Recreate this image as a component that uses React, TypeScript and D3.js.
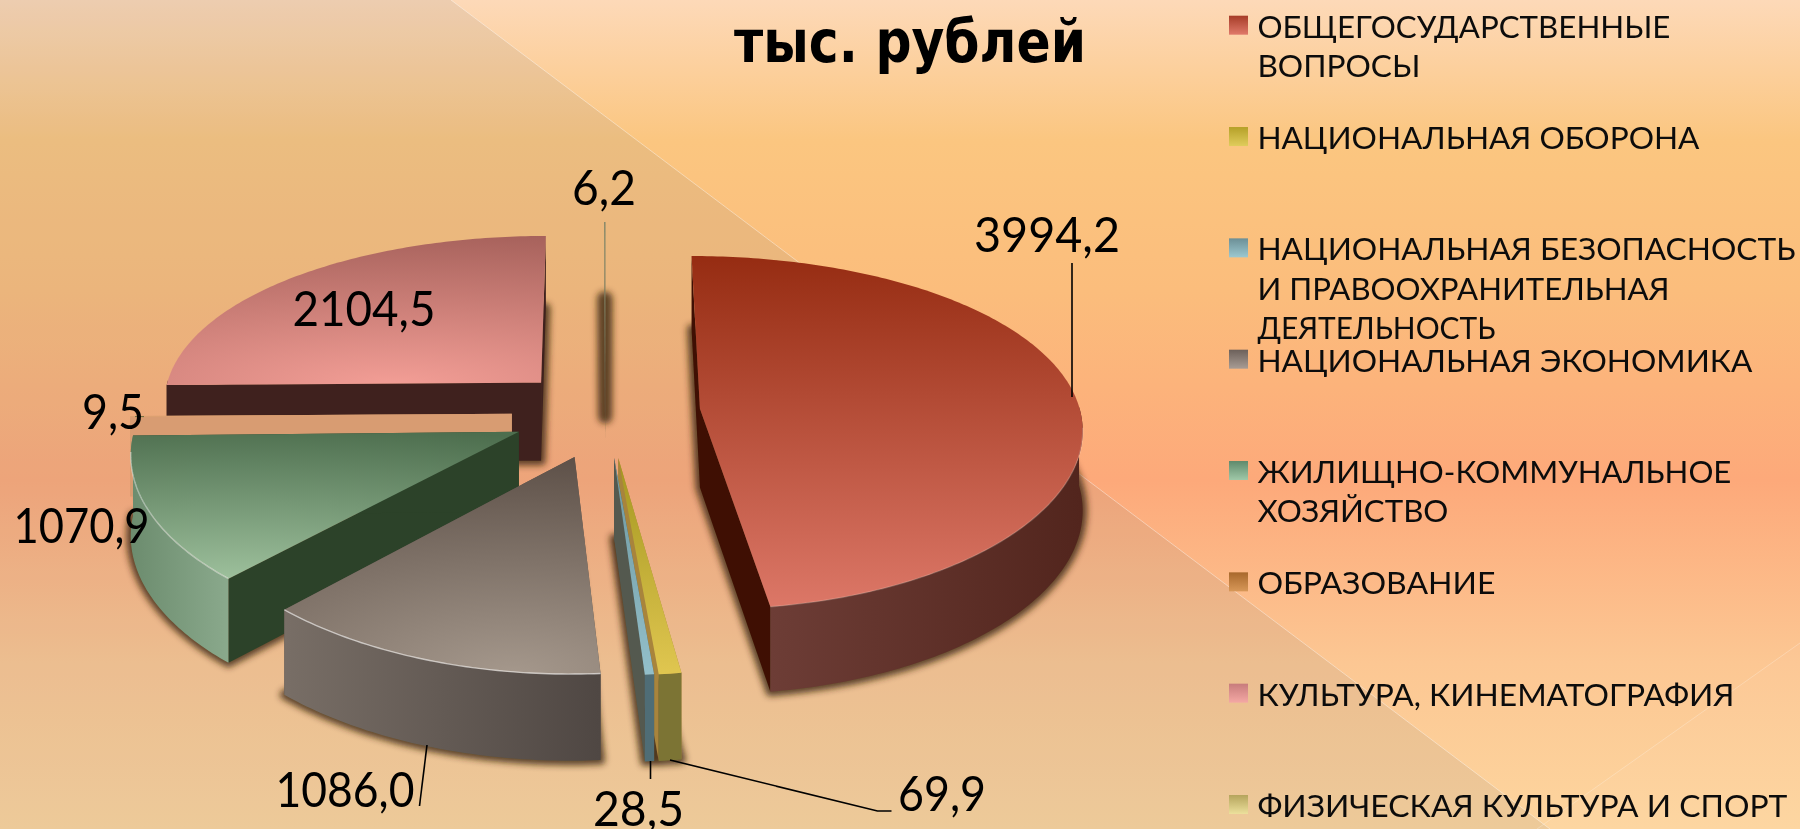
import React from "react";
import * as d3 from "d3";

const categories = [
  "ОБЩЕГОСУДАРСТВЕННЫЕ|ВОПРОСЫ",
  "НАЦИОНАЛЬНАЯ ОБОРОНА",
  "НАЦИОНАЛЬНАЯ БЕЗОПАСНОСТЬ|И ПРАВООХРАНИТЕЛЬНАЯ|ДЕЯТЕЛЬНОСТЬ",
  "НАЦИОНАЛЬНАЯ ЭКОНОМИКА",
  "ЖИЛИЩНО-КОММУНАЛЬНОЕ|ХОЗЯЙСТВО",
  "ОБРАЗОВАНИЕ",
  "КУЛЬТУРА, КИНЕМАТОГРАФИЯ",
  "ФИЗИЧЕСКАЯ КУЛЬТУРА И СПОРТ",
];
const values = [3994.2, 69.9, 28.5, 1086.0, 1070.9, 9.5, 2104.5, 6.2];
const valueLabels = ["3994,2", "69,9", "28,5", "1086,0", "1070,9", "9,5", "2104,5", "6,2"];

// explosion of every slice on the pie plane
const explodeX = [90, 8, 4, -34.5, -90, -98, -70, -5];
const explodeY = [-3, 101, 101, 99, 47, 8, -61, -102];

const topDark = ["#962c12", "#a3961f", "#6d979e", "#5a4d45", "#4d6e4e", "#dca070", "#a5605a", "#8a8a6a"];
const topLight = ["#dc7767", "#e0c650", "#93bfca", "#a5988c", "#9dc09c", "#dca070", "#f39e96", "#8a8a6a"];
const wallLeft = ["#6d3d36", "#7c7434", "#4f6d76", "#786e66", "#6c8c6e", "#d89c72", "#3f211e", "#6e6a50"];
const wallRight = ["#52251d", "#7c7434", "#4f6d76", "#4f4743", "#8aa98c", "#d89c72", "#3f211e", "#6e6a50"];
const sideColors = ["#3f0f03", "#a8843c", "#54594f", "#5a5048", "#2c4229", "#d89c72", "#3f211e", "#6e6a50"];
const radialFocus = [null, null, null, 0.72, 0.28, null, 0.6, null];
const bevel = [0.18, 0, 0, 0.6, 0.45, 0, 0.15, 0];
const swatchDark = ["#a63c28", "#b5a028", "#6c8f96", "#6c605a", "#5f8a6c", "#a8682c", "#c87c7c", "#b5a45c"];
const swatchLight = ["#e07a6a", "#e0cc5c", "#9cc8d0", "#a89c94", "#a0c8a8", "#d89858", "#f4a8a4", "#ece09c"];
const drawOrder = [6, 7, 5, 4, 3, 1, 2, 0];

const legendWidths = [[413, 163], [442], [538, 412, 238], [495], [474, 191], [238], [477], [530]];

const labelBoxes = [
  { x: 974, y: 252, w: 146 },
  { x: 898, y: 811, w: 88 },
  { x: 593, y: 826, w: 91 },
  { x: 275.5, y: 807, w: 139 },
  { x: 13.5, y: 543, w: 136 },
  { x: 82, y: 429, w: 62 },
  { x: 292.5, y: 326, w: 143 },
  { x: 572, y: 205, w: 64 },
];
const leaders: number[][][] = [
  [[1072, 263], [1072, 397]],
  [[670, 760], [877.5, 811], [891.5, 811]],
  [[650.5, 761], [650.5, 779]],
  [[427, 745], [419.5, 806]],
  [],
  [[135, 416.6], [144, 416.6]],
  [],
  [],
];

const W = 1800;
const H = 829;
const cx = 610;
const cy = 410;
const R = 380;
const tilt = 0.457;
const fx = (Y: number) => 1 / (1 - Y / 3700);
const fy = (Y: number) => 1 / (1 - Y / 2800);
const wall = (Y: number) => 79 + 0.016 * Y;

const line = d3.line();
const fontText = '"Lato","Noto Sans",sans-serif';

const pie = d3
  .pie<number>()
  .sort(null)
  .startAngle(0)
  .endAngle(2 * Math.PI);

function project(i: number, r: number, a: number, bottom: number): [number, number] {
  const X = explodeX[i] + r * Math.sin(a);
  const Y = explodeY[i] - r * Math.cos(a);
  return [cx + X * fx(Y), cy + Y * tilt * fy(Y) + bottom * wall(Y)];
}

function arcAngles(a0: number, a1: number): number[] {
  const n = Math.max(2, Math.ceil((a1 - a0) / 0.015));
  return d3.range(n + 1).map((k) => a0 + ((a1 - a0) * k) / n);
}

export default function App() {
  const arcs = pie(values);
  const legendScale = d3.scaleLinear().domain([0, 7]).range([15.7, 795]);
  return (
    <svg
      width={W}
      height={H}
      viewBox={`0 0 ${W} ${H}`}
      style={{ position: "fixed", left: 0, top: 0, display: "block" }}
    >
      <defs>
        <linearGradient id="bg" x1="0" y1="0" x2="0" y2="1">
          <stop offset="0" stopColor="#fdd9b8" />
          <stop offset="0.17" stopColor="#fbc680" />
          <stop offset="0.35" stopColor="#fbbd7c" />
          <stop offset="0.58" stopColor="#fda97a" />
          <stop offset="0.8" stopColor="#fcc793" />
          <stop offset="1" stopColor="#fdd59e" />
        </linearGradient>
        <filter id="blur" x="-30%" y="-30%" width="160%" height="160%">
          <feGaussianBlur stdDeviation="3" />
        </filter>
        {arcs.map((_, i) =>
          radialFocus[i] === null ? (
            <linearGradient key={i} id={`top${i}`} x1="0" y1="0" x2="0" y2="1">
              <stop offset="0" stopColor={topDark[i]} />
              <stop offset="1" stopColor={topLight[i]} />
            </linearGradient>
          ) : (
            <radialGradient
              key={i}
              id={`top${i}`}
              cx={radialFocus[i]!}
              cy="1"
              r="1.05"
              gradientTransform={`translate(${radialFocus[i]} 1) scale(1.7 1) translate(${-radialFocus[i]!} -1)`}
            >
              <stop offset="0" stopColor={topLight[i]} />
              <stop offset="1" stopColor={topDark[i]} />
            </radialGradient>
          )
        )}
        {arcs.map((_, i) => (
          <linearGradient key={i} id={`wall${i}`} x1="0" y1="0" x2="1" y2="0">
            <stop offset="0" stopColor={wallLeft[i]} />
            <stop offset="1" stopColor={wallRight[i]} />
          </linearGradient>
        ))}
        {arcs.map((_, i) => (
          <linearGradient key={i} id={`sw${i}`} x1="0" y1="0" x2="0" y2="1">
            <stop offset="0" stopColor={swatchDark[i]} />
            <stop offset="1" stopColor={swatchLight[i]} />
          </linearGradient>
        ))}
      </defs>

      <rect width={W} height={H} fill="url(#bg)" />
      <polygon points="0,0 451,0 1550,829 0,829" fill="#8f8a80" opacity={0.14} />
      <line x1={451} y1={0} x2={1550} y2={829} stroke="#fff" strokeOpacity={0.4} />
      <polygon points="1800,643 1800,829 1537,829" fill="#fff" opacity={0.03} />
      <line x1={1800} y1={643} x2={1537} y2={829} stroke="#fff" strokeOpacity={0.25} />

      <text
        x={734}
        y={62}
        textLength={352}
        lengthAdjust="spacingAndGlyphs"
        fontFamily='"DejaVu Sans",sans-serif'
        fontWeight={700}
        fontSize={58}
        fill="#000"
      >
        тыс. рублей
      </text>

      {/* shadows */}
      <g filter="url(#blur)">
        {arcs.map((d, i) => {
          const thin = d.endAngle - d.startAngle < 0.01;
          const rIn = thin ? 60 : 0;
          const rOut = thin ? R - 15 : R;
          const pts = arcAngles(d.startAngle, d.endAngle).map((a) => project(i, rOut, a, 1));
          const path = [project(i, rIn, d.startAngle, 1), ...pts, project(i, rIn, d.endAngle, 1)];
          return (
            <path
              key={i}
              d={line(path)! + "Z"}
              fill="#3c2710"
              stroke="#3c2710"
              strokeWidth={thin ? 14 : 9}
              strokeLinejoin="round"
              strokeLinecap="round"
              opacity={0.8}
            />
          );
        })}
      </g>

      {/* slices */}
      {drawOrder.map((i) => {
        const d = arcs[i];
        const angles = arcAngles(d.startAngle, d.endAngle);
        const topArc = angles.map((a) => project(i, R, a, 0));
        const lowArc = angles.map((a) => project(i, R, a, 1));
        const top = [project(i, 0, 0, 0), ...topArc];
        const side0 = [project(i, 0, 0, 0), topArc[0], lowArc[0], project(i, 0, 0, 1)];
        const last = angles.length - 1;
        const side1 = [project(i, 0, 0, 0), topArc[last], lowArc[last], project(i, 0, 0, 1)];
        const frontAngles = angles.filter((a) => Math.cos(a) < 0.02);
        const outer = [
          ...frontAngles.map((a) => project(i, R, a, 0)),
          ...frontAngles.slice().reverse().map((a) => project(i, R, a, 1)),
        ];
        const frontArc = angles
          .filter((a) => Math.cos(a) < -0.1)
          .map((a) => project(i, R, a, 0));
        return (
          <g key={i}>
            <path d={line(side0)! + "Z"} fill={sideColors[i]} />
            <path d={line(side1)! + "Z"} fill={sideColors[i]} />
            {outer.length > 3 && <path d={line(outer)! + "Z"} fill={`url(#wall${i})`} />}
            <path d={line(top)! + "Z"} fill={`url(#top${i})`} />
            {bevel[i] > 0 && frontArc.length > 1 && (
              <path
                d={line(frontArc)!}
                fill="none"
                stroke="#fff"
                strokeOpacity={bevel[i]}
                strokeWidth={1.4}
              />
            )}
          </g>
        );
      })}

      {/* leaders */}
      {leaders.map((pts, i) =>
        pts.length ? (
          <path
            key={i}
            d={line(pts as [number, number][])!}
            fill="none"
            stroke={i === 5 ? "#6b6b3a" : "#000"}
            strokeWidth={i === 5 ? 1 : 1.6}
          />
        ) : null
      )}

      {/* value labels */}
      {valueLabels.map((t, i) => (
        <text
          key={i}
          x={labelBoxes[i].x}
          y={labelBoxes[i].y}
          textLength={labelBoxes[i].w}
          lengthAdjust="spacingAndGlyphs"
          fontFamily={fontText}
          fontSize={48}
          fill="#000"
        >
          {t}
        </text>
      ))}

      {/* legend */}
      {categories.map((c, i) => {
        const top = legendScale(i);
        return (
          <g key={i}>
            <rect x={1229} y={top} width={19} height={19} fill={`url(#sw${i})`} />
            {c.split("|").map((ln, j) => (
              <text
                key={j}
                x={1257.4}
                y={top + 22 + j * 39.3}
                textLength={legendWidths[i][j]}
                lengthAdjust="spacingAndGlyphs"
                fontFamily={fontText}
                fontSize={31}
                fill="#0c0c0c"
              >
                {ln}
              </text>
            ))}
          </g>
        );
      })}
    </svg>
  );
}
